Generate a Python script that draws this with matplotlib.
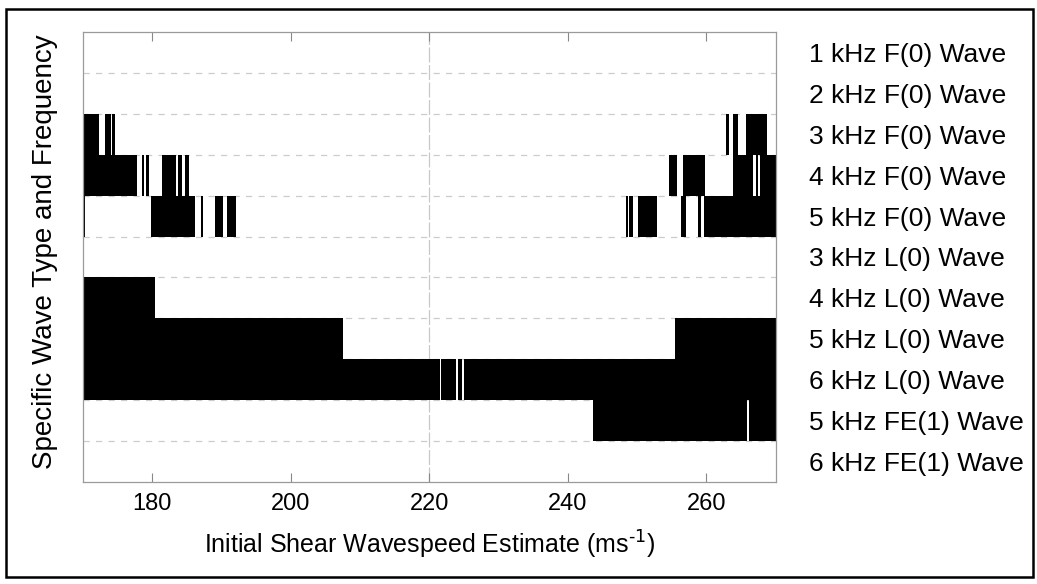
import matplotlib
matplotlib.use("Agg")
import matplotlib.pyplot as plt
from matplotlib.patches import Rectangle

plt.rcParams['font.family'] = ['Liberation Sans', 'DejaVu Sans']

# Row labels (top to bottom)
row_labels = ["1 kHz F(0) Wave", "2 kHz F(0) Wave", "3 kHz F(0) Wave",
              "4 kHz F(0) Wave", "5 kHz F(0) Wave", "3 kHz L(0) Wave",
              "4 kHz L(0) Wave", "5 kHz L(0) Wave", "6 kHz L(0) Wave",
              "5 kHz FE(1) Wave", "6 kHz FE(1) Wave"]

# Wavespeed intervals (ms^-1) where each wave type is flagged (black)
r_1k_F0 = []
r_2k_F0 = []
r_3k_F0 = [(170.0, 172.3), (173.2, 174.1), (174.2, 174.6),
           (262.8, 263.3), (263.9, 264.6), (265.7, 268.7)]
r_4k_F0 = [(170.0, 177.9), (178.5, 178.8), (179.1, 179.5), (181.5, 183.4),
           (183.8, 184.4), (184.8, 185.3), (254.6, 255.7), (256.6, 259.8),
           (263.9, 266.7), (267.1, 267.4), (267.8, 270.0)]
r_5k_F0 = [(170.0, 170.3), (179.8, 186.2), (187.0, 187.4), (189.1, 190.2),
           (190.8, 192.1), (248.4, 248.7), (248.8, 249.4), (250.1, 252.8),
           (256.4, 257.1), (258.8, 259.2), (259.6, 270.0)]
r_3k_L0 = []
r_4k_L0 = [(170.0, 180.4)]
r_5k_L0 = [(170.0, 207.6), (255.4, 270.0)]
r_6k_L0 = [(170.0, 221.5), (221.7, 223.9), (224.1, 224.8), (225.0, 270.0)]
r_5k_FE1 = [(243.7, 265.9), (266.2, 270.0)]
r_6k_FE1 = []

rows = [r_1k_F0, r_2k_F0, r_3k_F0, r_4k_F0, r_5k_F0, r_3k_L0,
        r_4k_L0, r_5k_L0, r_6k_L0, r_5k_FE1, r_6k_FE1]

x_ticks = [180, 200, 220, 240, 260]
x_min, x_max = 170, 270

W, H = 1037, 584
fig = plt.figure(figsize=(W / 100, H / 100), dpi=100)
ax = fig.add_axes([82.7 / W, 1 - 482 / H, (775.7 - 82.7) / W, (482 - 32) / H])

n = len(rows)
for i, intervals in enumerate(rows):
    if intervals:
        ax.broken_barh([(a, b - a) for a, b in intervals], (i - 0.5, 1.0),
                       facecolors='black', edgecolor='none', zorder=2)

# grid: dashed horizontal row separators, single dashed vertical at 220
for k in range(n - 1):
    ax.axhline(k + 0.5, color='#cccccc', lw=0.9, ls=(0, (5, 5)), zorder=1)
ax.axvline(220, color='#c8c8c8', lw=0.9, ls=(0, (12, 2)), zorder=1)

ax.set_xlim(x_min, x_max)
ax.set_ylim(n - 0.5, -0.5)
ax.set_xticks(x_ticks)
ax.set_xticklabels([str(t) for t in x_ticks], fontsize=17)
ax.tick_params(axis='x', direction='in', length=6.5, width=0.8, color='#888888',
               top=True, bottom=True, pad=8)
ax.yaxis.tick_right()
ax.set_yticks(range(n))
ax.set_yticklabels(row_labels, fontsize=19)
ax.tick_params(axis='y', length=0, pad=24, right=True, left=False)
for s in ax.spines.values():
    s.set_color('#9a9a9a')
    s.set_linewidth(0.9)

ax.set_xlabel(r"Initial Shear Wavespeed Estimate (ms$^{\text{-1}}$)",
              fontsize=18, labelpad=10)
fig.text(45 / W, 1 - 252 / H, "Specific Wave Type and Frequency", rotation=90,
         fontsize=20, ha='center', va='center')

# outer frame
fig.patches.append(Rectangle((6 / W, 1 - 577 / H), (1033 - 6) / W, (577 - 9) / H,
                             transform=fig.transFigure, fill=False,
                             edgecolor='black', lw=1.8))

fig.savefig("out.png", dpi=100)
